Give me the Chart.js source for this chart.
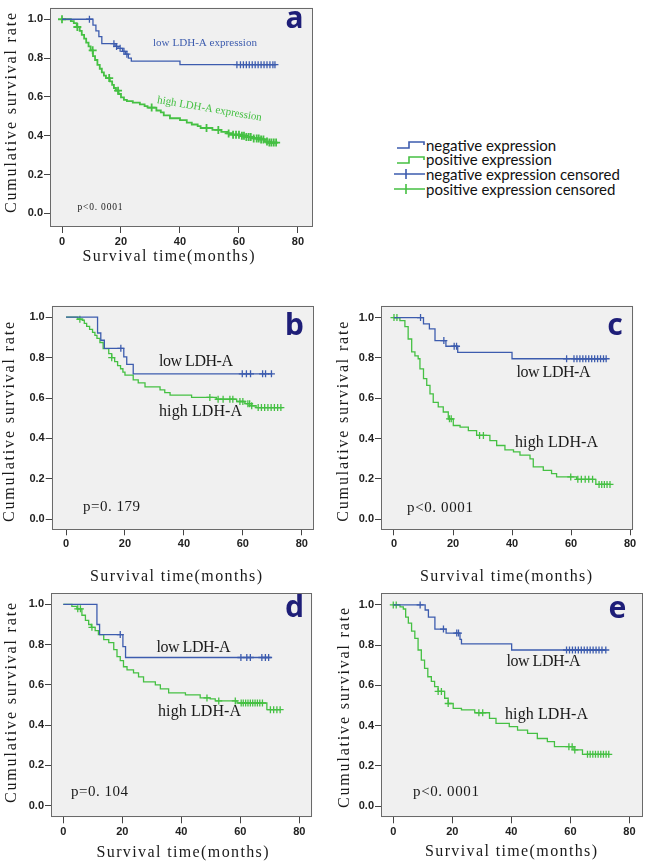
<!DOCTYPE html>
<html>
<head>
<meta charset="utf-8">
<script src="https://cdn.jsdelivr.net/npm/chart.js@4.4.0/dist/chart.umd.min.js"></script>
<style>
  body { margin: 0; background: #fff; }
  #page { position: relative; width: 647px; height: 864px; overflow: hidden; }
  canvas { position: absolute; }
  #legend { position: absolute; left: 393px; top: 137.5px; font: 15px Lato, "Open Sans", sans-serif; color: #111; }
  #legend .row { height: 14.7px; line-height: 14.7px; white-space: nowrap; display: flex; align-items: center; }
  #legend svg { width: 33px; height: 14px; flex: none; }
</style>
</head>
<body>
<div id="page">
  <canvas id="ka" width="320" height="275" style="left:0;top:0"></canvas>
  <canvas id="kb" width="320" height="300" style="left:0;top:285px"></canvas>
  <canvas id="kc" width="327" height="300" style="left:320px;top:285px"></canvas>
  <canvas id="kd" width="320" height="279" style="left:0;top:585px"></canvas>
  <canvas id="ke" width="327" height="279" style="left:320px;top:585px"></canvas>
  <div id="legend"></div>
</div>
<script>
// axis ticks
const xTicks = [0, 20, 40, 60, 80];
const yTicks = [0, 0.2, 0.4, 0.6, 0.8, 1.0];

const legendLabels = ['negative expression', 'positive expression',
  'negative expression censored', 'positive expression censored'];

// Kaplan-Meier steps [months, survival]
const aLow = [[0,1],[10.5,0.97],[11.5,0.94],[12.5,0.91],[13.5,0.874],[18,0.86],[19,0.85],[20.5,0.835],[21.5,0.82],[22.5,0.80],[23.5,0.784],[40,0.766],[72.5,0.766]];
const aLowCens = [9.3, 17.6, 18.5, 19.7, 21, 22, 59.3, 60.5, 61.5, 62.5, 63.5, 64.5, 65.5, 66.5, 67.5, 68.5, 69.5, 70.5, 71.5, 72.2];
const aHigh = [[0,1],[3,0.99],[4,0.98],[5,0.96],[6,0.94],[6.7,0.92],[7.5,0.9],[8.2,0.88],[9,0.86],[9.7,0.84],[10.5,0.81],[11.2,0.79],[12,0.765],[12.8,0.745],[13.5,0.726],[14.2,0.71],[14.9,0.697],[16.2,0.68],[17,0.662],[17.6,0.646],[18.3,0.632],[19.2,0.615],[20,0.598],[21,0.585],[22,0.578],[24,0.571],[26.4,0.562],[28,0.553],[29,0.545],[32,0.53],[33.5,0.52],[34.5,0.505],[36.6,0.49],[40,0.48],[42.3,0.468],[44,0.458],[46,0.45],[47,0.44],[51,0.43],[54,0.42],[56,0.412],[58,0.405],[60.5,0.40],[62.5,0.394],[65,0.386],[67,0.381],[68.8,0.37],[70,0.365],[73,0.365]];
const aHighCens = [0, 5.2, 10.4, 16, 19, 30.4, 49, 53, 56.5, 58, 59, 60, 61, 61.7, 62.5, 63.3, 64, 65, 66, 66.7, 67.5, 68.3, 69.5, 70.3, 71, 71.8, 72.6];

const bLow = [[0,1],[10.7,0.922],[11.8,0.886],[13,0.846],[19.6,0.804],[20.6,0.767],[22.8,0.72],[70,0.72]];
const bLowCens = [18.6, 59.8, 61.2, 62.6, 66.7, 67.7, 69.7];
const bHigh = [[0,1],[4,0.99],[5.5,0.985],[6.2,0.97],[7,0.955],[8,0.94],[9,0.925],[9.8,0.91],[10.5,0.895],[11.5,0.875],[12.6,0.845],[14.5,0.82],[15.5,0.8],[16.5,0.78],[17.5,0.76],[18.5,0.745],[19.3,0.728],[20,0.713],[22.8,0.69],[24.5,0.675],[26.8,0.655],[31.9,0.64],[33.5,0.627],[35.3,0.614],[42.6,0.603],[51,0.594],[57.9,0.583],[60.7,0.572],[63,0.562],[64.5,0.553],[73.5,0.553]];
const bHighCens = [4.7, 15.5, 48.8, 51.6, 53.3, 55.6, 56.6, 59, 60, 61.7, 62.3, 63, 65.2, 66.3, 67.4, 68.5, 69.6, 70.7, 71.8, 72.9];

const cLow = [[0,1],[10,0.969],[12,0.944],[13.9,0.886],[17.6,0.858],[21.6,0.828],[40,0.796],[72,0.796]];
const cLowCens = [9.0, 16.9, 20.4, 21.2, 58.5, 61, 62, 63, 64, 65, 66, 67, 68, 69, 70, 71, 71.9];
const cHigh = [[0,1],[2,0.985],[3.7,0.955],[4.8,0.894],[6,0.83],[7.1,0.81],[8.2,0.796],[8.8,0.746],[10,0.697],[11.1,0.664],[12.2,0.622],[13.3,0.58],[15,0.557],[16.7,0.532],[18.4,0.498],[20.1,0.465],[22.4,0.457],[25.2,0.44],[28,0.416],[32.5,0.39],[34.8,0.366],[37.6,0.344],[40.5,0.334],[42.7,0.318],[46.1,0.3],[47.2,0.26],[50.6,0.243],[53.4,0.226],[55.1,0.21],[61.9,0.198],[68.4,0.173],[73.2,0.173]];
const cHighCens = [0, 1, 18.8, 19.4, 29, 30.3, 59.9, 62.3, 63.5, 64.8, 66, 67.3, 69.5, 70.4, 71.3, 72.2, 73.2];

const dLow = [[0,1],[11.4,0.9],[12.3,0.85],[20.2,0.79],[21.1,0.736],[70.5,0.736]];
const dLowCens = [19.3, 60.2, 62.2, 63.4, 67.3, 68.5, 69.6];
const dHigh = [[0,1],[2.9,0.99],[4.6,0.978],[6.3,0.946],[7.5,0.92],[8.6,0.9],[9.5,0.886],[10.8,0.87],[11.9,0.85],[13.7,0.825],[15.4,0.81],[17.1,0.775],[18.2,0.74],[19.3,0.72],[20.4,0.69],[21.6,0.675],[23.8,0.66],[25.5,0.64],[27.2,0.615],[31.2,0.6],[32.9,0.58],[35.7,0.56],[41.4,0.55],[46.4,0.535],[49.8,0.53],[51.5,0.52],[58.9,0.51],[69,0.477],[73.6,0.477]];
const dHighCens = [4.9, 5.8, 9.7, 48.7, 52.7, 58.3, 60.3, 61, 61.8, 62.6, 63.4, 64.2, 65, 65.8, 66.6, 67.5, 70.2, 71.3, 72.4, 73.5];

const eLow = [[0,1],[10.8,0.975],[11.9,0.94],[14.1,0.88],[17.9,0.86],[22.6,0.829],[23.1,0.806],[40.1,0.776],[72,0.776]];
const eLowCens = [9.1, 17, 21.5, 22.1, 58.7, 59.7, 60.7, 61.7, 62.7, 63.7, 64.7, 65.7, 66.7, 67.7, 68.7, 69.7, 70.7, 72];
const eHigh = [[0,1],[2.3,0.99],[3.4,0.98],[4.2,0.94],[5.1,0.91],[6.2,0.87],[7.3,0.834],[8.4,0.776],[9.5,0.726],[10.6,0.685],[11.7,0.643],[12.9,0.62],[14,0.594],[15.2,0.57],[17.4,0.536],[18.6,0.51],[20.3,0.486],[23.1,0.478],[27.6,0.464],[32.6,0.436],[34.8,0.411],[39.3,0.395],[42.1,0.378],[45.5,0.361],[48.8,0.336],[52.2,0.32],[54.6,0.295],[61.2,0.279],[64.1,0.257],[73,0.257]];
const eHighCens = [0, 1, 15.2, 16.3, 18.6, 29, 30.3, 59.5, 60.6, 61.5, 65.8, 66.7, 67.6, 68.5, 69.4, 70.3, 71.2, 72.1, 73];

const BLUE = '#3d5cae';
const GREEN = '#45c043';
const SERIF = '"Liberation Serif", "Times New Roman", serif';
const LETTER = 'bold 30px "Noto Sans", sans-serif';
const NAVY = '#1e1e78';
const INK = '#1a1a1a';

Chart.defaults.font.family = '"Liberation Sans", Arial, sans-serif';
Chart.defaults.animation = false;

// survival level at time t (for placing the censor marks on the curve)
function censorPoints(curve, times) {
    return times.map(t => {
        let s = curve[0][1];
        for (const [ct, cs] of curve) {
            if (ct <= t) s = cs;
        }
        return { x: t, y: s };
    });
}

function framePlugin(texts) {
    return {
        id: 'frame',
        beforeDraw(chart) {
            const { ctx, chartArea: a } = chart;
            ctx.save();
            ctx.fillStyle = '#f0f0f0';
            ctx.fillRect(a.left, a.top, a.right - a.left, a.bottom - a.top);
            ctx.restore();
        },
        afterDraw(chart) {
            const { ctx, chartArea: a } = chart;
            ctx.save();
            ctx.strokeStyle = '#6a6a6a';
            ctx.lineWidth = 1;
            ctx.strokeRect(Math.round(a.left) + 0.5, Math.round(a.top) + 0.5,
                Math.round(a.right - a.left) - 1, Math.round(a.bottom - a.top) - 1);
            ctx.restore();

            texts.forEach(t => {
                ctx.save();
                const family = t.family || SERIF;
                let size = t.size;
                ctx.font = (t.weight || '') + ' ' + size + 'px ' + family;
                ctx.fillStyle = t.color || INK;
                ctx.textAlign = 'left';
                ctx.textBaseline = t.baseline || 'middle';
                let width = ctx.measureText(t.text).width;
                if (t.w && t.spread) {
                    // spread the letters, the figure uses a monospaced face
                    const ls = (t.w - width) / (t.text.length - 1);
                    ctx.letterSpacing = ls.toFixed(2) + 'px';
                    width = t.w;
                } else if (t.w) {
                    size = size * t.w / width;
                    ctx.font = (t.weight || '') + ' ' + size.toFixed(2) + 'px ' + family;
                    width = ctx.measureText(t.text).width;
                }
                ctx.translate(t.x, t.y);
                if (t.rot) ctx.rotate(t.rot * Math.PI / 180);
                ctx.fillText(t.text, -width / 2, 0);
                ctx.restore();
            });
        }
    };
}

function makePanel(id, p) {
    const canvas = document.getElementById(id);
    const W = canvas.width, H = canvas.height;
    const lw = p.lineWidth || 1.3;
    const hw = p.highWidth || lw;

    return new Chart(canvas, {
        type: 'line',
        data: {
            datasets: [
                { data: p.low.map(([x, y]) => ({ x, y })), borderColor: BLUE, borderWidth: lw, stepped: true, pointRadius: 0, fill: false },
                { data: p.high.map(([x, y]) => ({ x, y })), borderColor: GREEN, borderWidth: hw, stepped: true, pointRadius: 0, fill: false },
                { data: censorPoints(p.low, p.lowCens), showLine: false, pointStyle: 'cross', pointRadius: 3.5, borderColor: BLUE, borderWidth: lw },
                { data: censorPoints(p.high, p.highCens), showLine: false, pointStyle: 'cross', pointRadius: p.highCrossR || 3.5, borderColor: GREEN, borderWidth: hw }
            ]
        },
        options: {
            responsive: false,
            devicePixelRatio: 1,
            events: [],
            layout: { autoPadding: false, padding: { left: 0, top: p.box.t, right: W - p.box.r, bottom: 0 } },
            plugins: { legend: { display: false }, tooltip: { enabled: false } },
            scales: {
                x: {
                    type: 'linear', min: p.xMin, max: p.xMax,
                    afterBuildTicks: s => { s.ticks = xTicks.map(v => ({ value: v })); },
                    afterFit: s => { s.height = H - p.box.b; },
                    grid: { drawOnChartArea: false, drawTicks: true, tickLength: 6, color: '#444' },
                    border: { display: false },
                    ticks: { color: '#222', font: { size: 11, weight: 'bold' }, padding: 2, maxRotation: 0, autoSkip: false }
                },
                y: {
                    type: 'linear', min: p.yMin, max: p.yMax,
                    afterBuildTicks: s => { s.ticks = yTicks.map(v => ({ value: v })); },
                    afterFit: s => { s.width = p.box.l; },
                    grid: { drawOnChartArea: false, drawTicks: true, tickLength: 6, color: '#444' },
                    border: { display: false },
                    ticks: { color: '#222', font: { size: 11, weight: 'bold' }, padding: 1, callback: v => v.toFixed(1) }
                }
            }
        },
        plugins: [framePlugin(p.texts)]
    });
}

function kmTexts(c) {
    const list = [
        { text: 'Cumulative survival rate', x: c.yt[0], y: c.yt[1], rot: -90, w: 200, spread: true, size: 16 },
        { text: 'Survival time(months)', x: c.xt[0], y: c.xt[1], w: 172, spread: true, size: 16 },
        { text: c.letter, x: c.lp[0], y: c.lp[1], baseline: 'alphabetic', weight: 'bold', size: 30, family: '"Noto Sans", sans-serif', color: NAVY },
        { text: c.p, x: c.pp[0], y: c.pp[1], w: c.pw, spread: true, size: c.pSize || 15 }
    ];
    if (c.low) {
        list.push({ text: 'low LDH-A', x: c.low[0], y: c.low[1], w: 74, spread: true, size: 16 });
        list.push({ text: 'high LDH-A', x: c.high[0], y: c.high[1], w: 83, spread: true, size: 16 });
    }
    return list.concat(c.extra || []);
}

makePanel('ka', {
    low: aLow, lowCens: aLowCens, high: aHigh, highCens: aHighCens,
    xMin: -4.07, xMax: 85.1, yMin: -0.07, yMax: 1.06,
    box: { l: 50, t: 3, r: 313, b: 227 },
    highWidth: 1.8, highCrossR: 4,
    texts: kmTexts({
        yt: [12, 113], xt: [168.5, 257], letter: 'a', lp: [294.5, 28],
        p: 'p<0. 0001', pp: [100, 207.5], pw: 45, pSize: 9.5,
        extra: [
            { text: 'low LDH-A expression', x: 205, y: 43, w: 104, size: 13, color: BLUE },
            { text: 'high LDH-A expression', x: 209.5, y: 109, rot: 9.7, w: 106, size: 13, color: GREEN }
        ]
    })
});

makePanel('kb', {
    low: bLow, lowCens: bLowCens, high: bHigh, highCens: bHighCens,
    xMin: -4.86, xMax: 83.9, yMin: -0.0495, yMax: 1.057,
    box: { l: 51.7, t: 20.7, r: 313.3, b: 244.3 },
    texts: kmTexts({
        yt: [10, 137], xt: [176, 292], letter: 'b', lp: [294.5, 50],
        p: 'p=0. 179', pp: [111.5, 222], pw: 57,
        low: [196, 77], high: [200.5, 127]
    })
});

makePanel('kc', {
    low: cLow, lowCens: cLowCens, high: cHigh, highCens: cHighCens,
    xMin: -4.4, xMax: 81.1, yMin: -0.0496, yMax: 1.059,
    box: { l: 61, t: 20.7, r: 313.3, b: 244.3 },
    texts: kmTexts({
        yt: [24, 136.7], xt: [186, 292], letter: 'c', lp: [295, 50],
        p: 'p<0. 0001', pp: [120, 223], pw: 66,
        low: [233.5, 88], high: [236.5, 158]
    })
});

makePanel('kd', {
    low: dLow, lowCens: dLowCens, high: dHigh, highCens: dHighCens,
    xMin: -4.17, xMax: 84.4, yMin: -0.058, yMax: 1.055,
    box: { l: 51, t: 8.3, r: 312.3, b: 232.3 },
    texts: kmTexts({
        yt: [11.7, 118], xt: [182.5, 268], letter: 'd', lp: [294.5, 32],
        p: 'p=0. 104', pp: [99.5, 207], pw: 57,
        low: [193.5, 63], high: [199.5, 127]
    })
});

makePanel('ke', {
    low: eLow, lowCens: eLowCens, high: eHigh, highCens: eHighCens,
    xMin: -4.16, xMax: 84.5, yMin: -0.056, yMax: 1.058,
    box: { l: 61, t: 8.3, r: 322.7, b: 232.3 },
    texts: kmTexts({
        yt: [25, 123], xt: [191, 267], letter: 'e', lp: [297.5, 33],
        p: 'p<0. 0001', pp: [126, 207], pw: 66,
        low: [223.5, 77], high: [226.5, 130]
    })
});

// legend: two step icons, two censor icons
const legendIcons = [
    `<path d="M4 10H16V4H31V7" stroke="${BLUE}" stroke-width="1.6" fill="none"/>`,
    `<path d="M4 10H16V4H31V7" stroke="${GREEN}" stroke-width="1.6" fill="none"/>`,
    `<path d="M1 7H32M13 2V12" stroke="${BLUE}" stroke-width="1.6" fill="none"/>`,
    `<path d="M1 7H32M13 2V12" stroke="${GREEN}" stroke-width="1.6" fill="none"/>`
];
const legendEl = document.getElementById('legend');
legendLabels.forEach((label, i) => {
    const row = document.createElement('div');
    row.className = 'row';
    row.innerHTML = `<svg viewBox="0 0 33 14">${legendIcons[i]}</svg><span>${label}</span>`;
    legendEl.appendChild(row);
});
</script>
</body>
</html>
